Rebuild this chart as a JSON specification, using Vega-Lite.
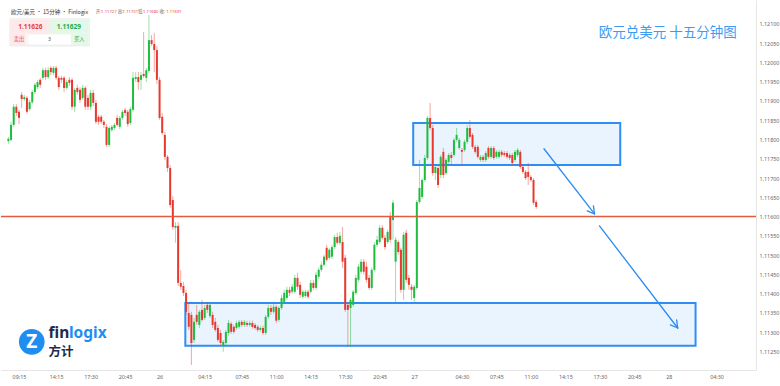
{
"$schema": "https://vega.github.io/schema/vega-lite/v6.json",
"width": 780, "height": 386,
"autosize": {"type": "fit", "contains": "padding"},
"padding": {"left": 0, "top": 0, "right": 1, "bottom": 6},
"background": "#ffffff",
"config": {"view": {"stroke": null}, "axis": {"grid": false, "ticks": false, "labelOverlap": false, "tickCount": 50, "labelFont": "Noto Sans", "labelFontSize": 5.4, "labelColor": "#666666", "domainColor": "#e6e6e6", "titleFontSize": 1, "titleColor": "#ffffff"}, "axisX": {"labelPadding": 4}, "axisY": {"labelPadding": 3}},
"datasets": {
"candles": [
{"time":"2019-06-25T09:45","open":1.11796,"high":1.11807,"low":1.11789,"close":1.11802},
{"time":"2019-06-25T10:00","open":1.11799,"high":1.11846,"low":1.11794,"close":1.11838},
{"time":"2019-06-25T10:15","open":1.11838,"high":1.11892,"low":1.11833,"close":1.11885},
{"time":"2019-06-25T10:30","open":1.11885,"high":1.11892,"low":1.11861,"close":1.11869},
{"time":"2019-06-25T10:45","open":1.11872,"high":1.11877,"low":1.11840,"close":1.11856},
{"time":"2019-06-25T11:00","open":1.11916,"high":1.11923,"low":1.11882,"close":1.11905},
{"time":"2019-06-25T11:15","open":1.11905,"high":1.11916,"low":1.11900,"close":1.11910},
{"time":"2019-06-25T11:30","open":1.11908,"high":1.11913,"low":1.11866,"close":1.11872},
{"time":"2019-06-25T11:45","open":1.11879,"high":1.11903,"low":1.11874,"close":1.11897},
{"time":"2019-06-25T12:00","open":1.11897,"high":1.11929,"low":1.11892,"close":1.11923},
{"time":"2019-06-25T12:15","open":1.11923,"high":1.11947,"low":1.11918,"close":1.11942},
{"time":"2019-06-25T12:30","open":1.11936,"high":1.11955,"low":1.11931,"close":1.11949},
{"time":"2019-06-25T12:45","open":1.11955,"high":1.11960,"low":1.11934,"close":1.11942},
{"time":"2019-06-25T13:00","open":1.11960,"high":1.11986,"low":1.11955,"close":1.11980},
{"time":"2019-06-25T13:15","open":1.11980,"high":1.11986,"low":1.11955,"close":1.11962},
{"time":"2019-06-25T13:30","open":1.11962,"high":1.11988,"low":1.11957,"close":1.11980},
{"time":"2019-06-25T13:45","open":1.11986,"high":1.11991,"low":1.11967,"close":1.11975},
{"time":"2019-06-25T14:00","open":1.11973,"high":1.11991,"low":1.11967,"close":1.11986},
{"time":"2019-06-25T14:15","open":1.11986,"high":1.11991,"low":1.11955,"close":1.11960},
{"time":"2019-06-25T14:30","open":1.11960,"high":1.11965,"low":1.11929,"close":1.11936},
{"time":"2019-06-25T14:45","open":1.11960,"high":1.11965,"low":1.11947,"close":1.11955},
{"time":"2019-06-25T15:00","open":1.11960,"high":1.11965,"low":1.11923,"close":1.11934},
{"time":"2019-06-25T15:15","open":1.11934,"high":1.11955,"low":1.11929,"close":1.11949},
{"time":"2019-06-25T15:30","open":1.11955,"high":1.11962,"low":1.11939,"close":1.11947},
{"time":"2019-06-25T15:45","open":1.11955,"high":1.11960,"low":1.11877,"close":1.11885},
{"time":"2019-06-25T16:00","open":1.11885,"high":1.11934,"low":1.11872,"close":1.11929},
{"time":"2019-06-25T16:15","open":1.11934,"high":1.11942,"low":1.11916,"close":1.11923},
{"time":"2019-06-25T16:30","open":1.11929,"high":1.11936,"low":1.11895,"close":1.11903},
{"time":"2019-06-25T16:45","open":1.11908,"high":1.11942,"low":1.11903,"close":1.11934},
{"time":"2019-06-25T17:00","open":1.11934,"high":1.11939,"low":1.11877,"close":1.11885},
{"time":"2019-06-25T17:15","open":1.11908,"high":1.11916,"low":1.11877,"close":1.11885},
{"time":"2019-06-25T17:30","open":1.11885,"high":1.11929,"low":1.11877,"close":1.11921},
{"time":"2019-06-25T17:45","open":1.11921,"high":1.11929,"low":1.11887,"close":1.11895},
{"time":"2019-06-25T18:00","open":1.11895,"high":1.11903,"low":1.11840,"close":1.11846},
{"time":"2019-06-25T18:15","open":1.11859,"high":1.11864,"low":1.11838,"close":1.11846},
{"time":"2019-06-25T18:30","open":1.11859,"high":1.11864,"low":1.11840,"close":1.11846},
{"time":"2019-06-25T18:45","open":1.11846,"high":1.11851,"low":1.11830,"close":1.11838},
{"time":"2019-06-25T19:00","open":1.11833,"high":1.11840,"low":1.11781,"close":1.11786},
{"time":"2019-06-25T19:15","open":1.11786,"high":1.11835,"low":1.11781,"close":1.11830},
{"time":"2019-06-25T19:30","open":1.11825,"high":1.11838,"low":1.11820,"close":1.11833},
{"time":"2019-06-25T19:45","open":1.11830,"high":1.11843,"low":1.11825,"close":1.11838},
{"time":"2019-06-25T20:00","open":1.11856,"high":1.11864,"low":1.11833,"close":1.11838},
{"time":"2019-06-25T20:15","open":1.11833,"high":1.11861,"low":1.11827,"close":1.11856},
{"time":"2019-06-25T20:30","open":1.11856,"high":1.11877,"low":1.11851,"close":1.11872},
{"time":"2019-06-25T20:45","open":1.11877,"high":1.11882,"low":1.11861,"close":1.11869},
{"time":"2019-06-25T21:00","open":1.11872,"high":1.11877,"low":1.11833,"close":1.11840},
{"time":"2019-06-25T21:15","open":1.11843,"high":1.11885,"low":1.11838,"close":1.11879},
{"time":"2019-06-25T21:30","open":1.11877,"high":1.11975,"low":1.11872,"close":1.11960},
{"time":"2019-06-25T21:45","open":1.11957,"high":1.11975,"low":1.11949,"close":1.11962},
{"time":"2019-06-25T22:00","open":1.11962,"high":1.11975,"low":1.11929,"close":1.11949},
{"time":"2019-06-25T22:15","open":1.11955,"high":1.11975,"low":1.11929,"close":1.11967},
{"time":"2019-06-25T22:30","open":1.11970,"high":1.12079,"low":1.11960,"close":1.11965},
{"time":"2019-06-25T22:45","open":1.11960,"high":1.11986,"low":1.11949,"close":1.11980},
{"time":"2019-06-25T23:00","open":1.11978,"high":1.12123,"low":1.11973,"close":1.12058},
{"time":"2019-06-25T23:15","open":1.12058,"high":1.12071,"low":1.12043,"close":1.12048},
{"time":"2019-06-25T23:30","open":1.12048,"high":1.12076,"low":1.11975,"close":1.12032},
{"time":"2019-06-25T23:45","open":1.12032,"high":1.12043,"low":1.11944,"close":1.11955},
{"time":"2019-06-26T00:00","open":1.11955,"high":1.11962,"low":1.11851,"close":1.11856},
{"time":"2019-06-26T00:15","open":1.11859,"high":1.11869,"low":1.11812,"close":1.11817},
{"time":"2019-06-26T00:30","open":1.11812,"high":1.11820,"low":1.11747,"close":1.11755},
{"time":"2019-06-26T00:45","open":1.11755,"high":1.11760,"low":1.11716,"close":1.11726},
{"time":"2019-06-26T01:00","open":1.11726,"high":1.11734,"low":1.11623,"close":1.11630},
{"time":"2019-06-26T01:15","open":1.11643,"high":1.11654,"low":1.11566,"close":1.11573},
{"time":"2019-06-26T01:30","open":1.11571,"high":1.11586,"low":1.11532,"close":1.11576},
{"time":"2019-06-26T01:45","open":1.11576,"high":1.11586,"low":1.11420,"close":1.11428},
{"time":"2019-06-26T02:00","open":1.11428,"high":1.11462,"low":1.11410,"close":1.11418},
{"time":"2019-06-26T02:15","open":1.11420,"high":1.11431,"low":1.11394,"close":1.11402},
{"time":"2019-06-26T02:30","open":1.11402,"high":1.11410,"low":1.11345,"close":1.11353},
{"time":"2019-06-26T02:45","open":1.11350,"high":1.11376,"low":1.11306,"close":1.11314},
{"time":"2019-06-26T03:00","open":1.11345,"high":1.11353,"low":1.11215,"close":1.11272},
{"time":"2019-06-26T03:15","open":1.11280,"high":1.11337,"low":1.11272,"close":1.11327},
{"time":"2019-06-26T03:30","open":1.11345,"high":1.11371,"low":1.11319,"close":1.11327},
{"time":"2019-06-26T03:45","open":1.11319,"high":1.11358,"low":1.11311,"close":1.11353},
{"time":"2019-06-26T04:00","open":1.11358,"high":1.11384,"low":1.11327,"close":1.11332},
{"time":"2019-06-26T04:15","open":1.11337,"high":1.11371,"low":1.11332,"close":1.11363},
{"time":"2019-06-26T04:30","open":1.11371,"high":1.11379,"low":1.11350,"close":1.11358},
{"time":"2019-06-26T04:45","open":1.11342,"high":1.11379,"low":1.11337,"close":1.11371},
{"time":"2019-06-26T05:00","open":1.11345,"high":1.11353,"low":1.11311,"close":1.11319},
{"time":"2019-06-26T05:15","open":1.11327,"high":1.11337,"low":1.11301,"close":1.11306},
{"time":"2019-06-26T05:30","open":1.11311,"high":1.11319,"low":1.11275,"close":1.11280},
{"time":"2019-06-26T05:45","open":1.11298,"high":1.11306,"low":1.11267,"close":1.11272},
{"time":"2019-06-26T06:00","open":1.11267,"high":1.11280,"low":1.11249,"close":1.11275},
{"time":"2019-06-26T06:15","open":1.11272,"high":1.11306,"low":1.11267,"close":1.11301},
{"time":"2019-06-26T06:30","open":1.11298,"high":1.11332,"low":1.11291,"close":1.11324},
{"time":"2019-06-26T06:45","open":1.11322,"high":1.11327,"low":1.11296,"close":1.11301},
{"time":"2019-06-26T07:00","open":1.11314,"high":1.11319,"low":1.11296,"close":1.11301},
{"time":"2019-06-26T07:15","open":1.11311,"high":1.11330,"low":1.11306,"close":1.11324},
{"time":"2019-06-26T07:30","open":1.11314,"high":1.11332,"low":1.11309,"close":1.11327},
{"time":"2019-06-26T07:45","open":1.11327,"high":1.11332,"low":1.11314,"close":1.11319},
{"time":"2019-06-26T08:00","open":1.11319,"high":1.11332,"low":1.11314,"close":1.11327},
{"time":"2019-06-26T08:15","open":1.11324,"high":1.11330,"low":1.11314,"close":1.11319},
{"time":"2019-06-26T08:30","open":1.11319,"high":1.11330,"low":1.11314,"close":1.11324},
{"time":"2019-06-26T08:45","open":1.11324,"high":1.11330,"low":1.11309,"close":1.11314},
{"time":"2019-06-26T09:00","open":1.11319,"high":1.11324,"low":1.11306,"close":1.11311},
{"time":"2019-06-26T09:15","open":1.11314,"high":1.11319,"low":1.11301,"close":1.11306},
{"time":"2019-06-26T09:30","open":1.11306,"high":1.11317,"low":1.11301,"close":1.11311},
{"time":"2019-06-26T09:45","open":1.11311,"high":1.11317,"low":1.11293,"close":1.11298},
{"time":"2019-06-26T10:00","open":1.11298,"high":1.11345,"low":1.11293,"close":1.11340},
{"time":"2019-06-26T10:15","open":1.11340,"high":1.11371,"low":1.11335,"close":1.11363},
{"time":"2019-06-26T10:30","open":1.11363,"high":1.11371,"low":1.11345,"close":1.11353},
{"time":"2019-06-26T10:45","open":1.11353,"high":1.11374,"low":1.11348,"close":1.11366},
{"time":"2019-06-26T11:00","open":1.11366,"high":1.11371,"low":1.11324,"close":1.11330},
{"time":"2019-06-26T11:15","open":1.11332,"high":1.11368,"low":1.11327,"close":1.11363},
{"time":"2019-06-26T11:30","open":1.11363,"high":1.11397,"low":1.11358,"close":1.11389},
{"time":"2019-06-26T11:45","open":1.11379,"high":1.11410,"low":1.11374,"close":1.11402},
{"time":"2019-06-26T12:00","open":1.11389,"high":1.11418,"low":1.11384,"close":1.11410},
{"time":"2019-06-26T12:15","open":1.11410,"high":1.11418,"low":1.11394,"close":1.11402},
{"time":"2019-06-26T12:30","open":1.11405,"high":1.11425,"low":1.11400,"close":1.11418},
{"time":"2019-06-26T12:45","open":1.11405,"high":1.11449,"low":1.11400,"close":1.11441},
{"time":"2019-06-26T13:00","open":1.11441,"high":1.11454,"low":1.11410,"close":1.11418},
{"time":"2019-06-26T13:15","open":1.11423,"high":1.11431,"low":1.11389,"close":1.11397},
{"time":"2019-06-26T13:30","open":1.11392,"high":1.11410,"low":1.11387,"close":1.11405},
{"time":"2019-06-26T13:45","open":1.11394,"high":1.11410,"low":1.11389,"close":1.11405},
{"time":"2019-06-26T14:00","open":1.11405,"high":1.11410,"low":1.11387,"close":1.11392},
{"time":"2019-06-26T14:15","open":1.11405,"high":1.11436,"low":1.11400,"close":1.11428},
{"time":"2019-06-26T14:30","open":1.11428,"high":1.11436,"low":1.11410,"close":1.11415},
{"time":"2019-06-26T14:45","open":1.11415,"high":1.11457,"low":1.11410,"close":1.11449},
{"time":"2019-06-26T15:00","open":1.11444,"high":1.11467,"low":1.11438,"close":1.11462},
{"time":"2019-06-26T15:15","open":1.11462,"high":1.11483,"low":1.11457,"close":1.11475},
{"time":"2019-06-26T15:30","open":1.11475,"high":1.11501,"low":1.11470,"close":1.11496},
{"time":"2019-06-26T15:45","open":1.11519,"high":1.11527,"low":1.11483,"close":1.11488},
{"time":"2019-06-26T16:00","open":1.11493,"high":1.11519,"low":1.11488,"close":1.11514},
{"time":"2019-06-26T16:15","open":1.11496,"high":1.11527,"low":1.11490,"close":1.11521},
{"time":"2019-06-26T16:30","open":1.11521,"high":1.11553,"low":1.11516,"close":1.11547},
{"time":"2019-06-26T16:45","open":1.11547,"high":1.11558,"low":1.11527,"close":1.11532},
{"time":"2019-06-26T17:00","open":1.11532,"high":1.11560,"low":1.11527,"close":1.11550},
{"time":"2019-06-26T17:15","open":1.11534,"high":1.11573,"low":1.11467,"close":1.11483},
{"time":"2019-06-26T17:30","open":1.11493,"high":1.11501,"low":1.11353,"close":1.11358},
{"time":"2019-06-26T17:45","open":1.11371,"high":1.11379,"low":1.11262,"close":1.11358},
{"time":"2019-06-26T18:00","open":1.11363,"high":1.11389,"low":1.11262,"close":1.11384},
{"time":"2019-06-26T18:15","open":1.11371,"high":1.11410,"low":1.11366,"close":1.11405},
{"time":"2019-06-26T18:30","open":1.11402,"high":1.11449,"low":1.11397,"close":1.11441},
{"time":"2019-06-26T18:45","open":1.11436,"high":1.11477,"low":1.11431,"close":1.11470},
{"time":"2019-06-26T19:00","open":1.11457,"high":1.11490,"low":1.11451,"close":1.11483},
{"time":"2019-06-26T19:15","open":1.11483,"high":1.11490,"low":1.11449,"close":1.11457},
{"time":"2019-06-26T19:30","open":1.11470,"high":1.11483,"low":1.11428,"close":1.11436},
{"time":"2019-06-26T19:45","open":1.11441,"high":1.11449,"low":1.11410,"close":1.11415},
{"time":"2019-06-26T20:00","open":1.11415,"high":1.11467,"low":1.11410,"close":1.11462},
{"time":"2019-06-26T20:15","open":1.11462,"high":1.11534,"low":1.11457,"close":1.11527},
{"time":"2019-06-26T20:30","open":1.11527,"high":1.11550,"low":1.11521,"close":1.11540},
{"time":"2019-06-26T20:45","open":1.11534,"high":1.11578,"low":1.11529,"close":1.11571},
{"time":"2019-06-26T21:00","open":1.11571,"high":1.11578,"low":1.11540,"close":1.11545},
{"time":"2019-06-26T21:15","open":1.11545,"high":1.11553,"low":1.11514,"close":1.11521},
{"time":"2019-06-26T21:30","open":1.11534,"high":1.11566,"low":1.11529,"close":1.11560},
{"time":"2019-06-26T21:45","open":1.11599,"high":1.11612,"low":1.11532,"close":1.11540},
{"time":"2019-06-26T22:00","open":1.11591,"high":1.11643,"low":1.11540,"close":1.11636},
{"time":"2019-06-26T22:15","open":1.11483,"high":1.11547,"low":1.11376,"close":1.11540},
{"time":"2019-06-26T22:30","open":1.11534,"high":1.11540,"low":1.11501,"close":1.11508},
{"time":"2019-06-26T22:45","open":1.11514,"high":1.11519,"low":1.11402,"close":1.11410},
{"time":"2019-06-26T23:00","open":1.11410,"high":1.11560,"low":1.11384,"close":1.11553},
{"time":"2019-06-26T23:15","open":1.11558,"high":1.11566,"low":1.11428,"close":1.11436},
{"time":"2019-06-26T23:30","open":1.11441,"high":1.11449,"low":1.11410,"close":1.11423},
{"time":"2019-06-26T23:45","open":1.11418,"high":1.11425,"low":1.11384,"close":1.11410},
{"time":"2019-06-27T00:00","open":1.11389,"high":1.11423,"low":1.11379,"close":1.11418},
{"time":"2019-06-27T00:15","open":1.11415,"high":1.11643,"low":1.11410,"close":1.11638},
{"time":"2019-06-27T00:30","open":1.11638,"high":1.11747,"low":1.11633,"close":1.11674},
{"time":"2019-06-27T00:45","open":1.11651,"high":1.11700,"low":1.11646,"close":1.11695},
{"time":"2019-06-27T01:00","open":1.11695,"high":1.11760,"low":1.11690,"close":1.11752},
{"time":"2019-06-27T01:15","open":1.11752,"high":1.11861,"low":1.11747,"close":1.11856},
{"time":"2019-06-27T01:30","open":1.11856,"high":1.11895,"low":1.11825,"close":1.11830},
{"time":"2019-06-27T01:45","open":1.11830,"high":1.11838,"low":1.11706,"close":1.11713},
{"time":"2019-06-27T02:00","open":1.11713,"high":1.11734,"low":1.11695,"close":1.11729},
{"time":"2019-06-27T02:15","open":1.11726,"high":1.11734,"low":1.11674,"close":1.11682},
{"time":"2019-06-27T02:30","open":1.11708,"high":1.11760,"low":1.11700,"close":1.11755},
{"time":"2019-06-27T02:45","open":1.11768,"high":1.11778,"low":1.11700,"close":1.11708},
{"time":"2019-06-27T03:00","open":1.11713,"high":1.11752,"low":1.11708,"close":1.11747},
{"time":"2019-06-27T03:15","open":1.11742,"high":1.11765,"low":1.11737,"close":1.11760},
{"time":"2019-06-27T03:30","open":1.11760,"high":1.11768,"low":1.11734,"close":1.11752},
{"time":"2019-06-27T03:45","open":1.11760,"high":1.11804,"low":1.11755,"close":1.11799},
{"time":"2019-06-27T04:00","open":1.11799,"high":1.11830,"low":1.11794,"close":1.11812},
{"time":"2019-06-27T04:15","open":1.11778,"high":1.11804,"low":1.11773,"close":1.11799},
{"time":"2019-06-27T04:30","open":1.11773,"high":1.11778,"low":1.11734,"close":1.11768},
{"time":"2019-06-27T04:45","open":1.11773,"high":1.11799,"low":1.11768,"close":1.11794},
{"time":"2019-06-27T05:00","open":1.11794,"high":1.11838,"low":1.11789,"close":1.11830},
{"time":"2019-06-27T05:15","open":1.11830,"high":1.11851,"low":1.11802,"close":1.11807},
{"time":"2019-06-27T05:30","open":1.11812,"high":1.11817,"low":1.11776,"close":1.11781},
{"time":"2019-06-27T05:45","open":1.11781,"high":1.11786,"low":1.11763,"close":1.11768},
{"time":"2019-06-27T06:00","open":1.11781,"high":1.11786,"low":1.11750,"close":1.11755},
{"time":"2019-06-27T06:15","open":1.11747,"high":1.11760,"low":1.11742,"close":1.11755},
{"time":"2019-06-27T06:30","open":1.11755,"high":1.11760,"low":1.11742,"close":1.11747},
{"time":"2019-06-27T06:45","open":1.11747,"high":1.11770,"low":1.11742,"close":1.11765},
{"time":"2019-06-27T07:00","open":1.11778,"high":1.11783,"low":1.11750,"close":1.11755},
{"time":"2019-06-27T07:15","open":1.11755,"high":1.11783,"low":1.11750,"close":1.11778},
{"time":"2019-06-27T07:30","open":1.11778,"high":1.11783,"low":1.11747,"close":1.11752},
{"time":"2019-06-27T07:45","open":1.11755,"high":1.11773,"low":1.11750,"close":1.11768},
{"time":"2019-06-27T08:00","open":1.11755,"high":1.11773,"low":1.11750,"close":1.11768},
{"time":"2019-06-27T08:15","open":1.11768,"high":1.11773,"low":1.11755,"close":1.11760},
{"time":"2019-06-27T08:30","open":1.11765,"high":1.11770,"low":1.11755,"close":1.11760},
{"time":"2019-06-27T08:45","open":1.11765,"high":1.11770,"low":1.11750,"close":1.11755},
{"time":"2019-06-27T09:00","open":1.11760,"high":1.11765,"low":1.11747,"close":1.11752},
{"time":"2019-06-27T09:15","open":1.11760,"high":1.11765,"low":1.11734,"close":1.11739},
{"time":"2019-06-27T09:30","open":1.11747,"high":1.11773,"low":1.11742,"close":1.11768},
{"time":"2019-06-27T09:45","open":1.11760,"high":1.11778,"low":1.11755,"close":1.11773},
{"time":"2019-06-27T10:00","open":1.11768,"high":1.11773,"low":1.11724,"close":1.11729},
{"time":"2019-06-27T10:15","open":1.11729,"high":1.11734,"low":1.11711,"close":1.11716},
{"time":"2019-06-27T10:30","open":1.11716,"high":1.11721,"low":1.11695,"close":1.11700},
{"time":"2019-06-27T10:45","open":1.11716,"high":1.11739,"low":1.11682,"close":1.11703},
{"time":"2019-06-27T11:00","open":1.11703,"high":1.11708,"low":1.11690,"close":1.11695},
{"time":"2019-06-27T11:15","open":1.11695,"high":1.11700,"low":1.11630,"close":1.11636},
{"time":"2019-06-27T11:30","open":1.11638,"high":1.11643,"low":1.11620,"close":1.11625}
],
"zones": [
{"start":"2019-06-26T23:54:30","end":"2019-06-27T19:25:30","top":1.11843,"bottom":1.11734},
{"start":"2019-06-26T02:25:42","end":"2019-06-28T02:31:24","top":1.11376,"bottom":1.11265}
],
"arrows": [
{"t1":"2019-06-27T12:14:06","p1":1.11776,"t2":"2019-06-27T17:00:00","p2":1.11607},
{"t1":"2019-06-27T17:00:00","p1":1.11607,"t2":"2019-06-27T16:53:42","p2":1.11628},
{"t1":"2019-06-27T17:00:00","p1":1.11607,"t2":"2019-06-27T16:18:18","p2":1.11615},
{"t1":"2019-06-27T17:28:00","p1":1.11576,"t2":"2019-06-28T00:50:30","p2":1.11311},
{"t1":"2019-06-28T00:50:30","p1":1.11311,"t2":"2019-06-28T00:44:18","p2":1.11332},
{"t1":"2019-06-28T00:50:30","p1":1.11311,"t2":"2019-06-28T00:09:00","p2":1.11319}
],
"widget": [
{"part":"frame","start":"2019-06-25T09:53:55","end":"2019-06-25T17:22:12","top":1.12113,"bottom":1.12043},
{"part":"sell","start":"2019-06-25T09:59:30","end":"2019-06-25T13:38:02","top":1.12110,"bottom":1.12076},
{"part":"buy","start":"2019-06-25T13:38:02","end":"2019-06-25T17:16:34","top":1.12110,"bottom":1.12076},
{"part":"sellTag","start":"2019-06-25T09:59:30","end":"2019-06-25T11:23:35","top":1.12074,"bottom":1.12045},
{"part":"qty","start":"2019-06-25T11:34:48","end":"2019-06-25T15:41:20","top":1.12074,"bottom":1.12045},
{"part":"buyTag","start":"2019-06-25T15:46:55","end":"2019-06-25T17:16:34","top":1.12074,"bottom":1.12045}
]
},
"layer": [
{"data":{"name":"zones"},
 "mark":{"type":"rect","fill":"#eaf4fe","stroke":"#2f8ef5","strokeWidth":2},
 "encoding":{
  "x":{"field":"start","type":"temporal",
   "scale":{"domain":[{"year":2019,"month":6,"date":25,"hours":9,"minutes":31,"seconds":30},{"year":2019,"month":6,"date":28,"hours":7,"minutes":45}]},
   "axis":{"title":null,"orient":"bottom","labelPadding":4,"labelOverlap":false,"tickCount":50,
    "values":[{"year":2019,"month":6,"date":25,"hours":10,"minutes":45},{"year":2019,"month":6,"date":25,"hours":14,"minutes":15},{"year":2019,"month":6,"date":25,"hours":17,"minutes":30},{"year":2019,"month":6,"date":25,"hours":20,"minutes":45},{"year":2019,"month":6,"date":26,"hours":0,"minutes":0},{"year":2019,"month":6,"date":26,"hours":4,"minutes":15},{"year":2019,"month":6,"date":26,"hours":7,"minutes":45},{"year":2019,"month":6,"date":26,"hours":11,"minutes":0},{"year":2019,"month":6,"date":26,"hours":14,"minutes":15},{"year":2019,"month":6,"date":26,"hours":17,"minutes":30},{"year":2019,"month":6,"date":26,"hours":20,"minutes":45},{"year":2019,"month":6,"date":27,"hours":0,"minutes":0},{"year":2019,"month":6,"date":27,"hours":4,"minutes":30},{"year":2019,"month":6,"date":27,"hours":7,"minutes":45},{"year":2019,"month":6,"date":27,"hours":11,"minutes":0},{"year":2019,"month":6,"date":27,"hours":14,"minutes":15},{"year":2019,"month":6,"date":27,"hours":17,"minutes":30},{"year":2019,"month":6,"date":27,"hours":20,"minutes":45},{"year":2019,"month":6,"date":28,"hours":0,"minutes":0},{"year":2019,"month":6,"date":28,"hours":4,"minutes":30}],
    "labelExpr":"(hours(datum.value) == 0 && minutes(datum.value) == 0) ? timeFormat(datum.value, '%d') : ((date(datum.value) == 25 && hours(datum.value) == 10) ? '09:15' : timeFormat(datum.value, '%H:%M'))"}},
  "x2":{"field":"end"},
  "y":{"field":"top","type":"quantitative",
   "scale":{"domain":[1.11202,1.12162],"nice":false,"zero":false},
   "axis":{"title":null,"orient":"right","format":".5f","labelPadding":3,"labelOverlap":false,"tickCount":50,
    "values":[1.1125,1.113,1.1135,1.114,1.1145,1.115,1.1155,1.116,1.1165,1.117,1.1175,1.118,1.1185,1.119,1.1195,1.12,1.1205,1.121]}},
  "y2":{"field":"bottom"}}},
{"data":{"name":"candles"},
 "mark":{"type":"rule","strokeWidth":1,"opacity":0.45},
 "encoding":{
  "x":{"field":"time","type":"temporal"},
  "y":{"field":"low","type":"quantitative"},
  "y2":{"field":"high"},
  "color":{"condition":{"test":"datum.close >= datum.open","value":"#1fbd3e"},"value":"#e8392f"}}},
{"data":{"name":"candles"},
 "mark":{"type":"bar","size":2},
 "encoding":{
  "x":{"field":"time","type":"temporal"},
  "y":{"field":"open","type":"quantitative","scale":{"domain":[1.11202,1.12162],"nice":false,"zero":false}},
  "y2":{"field":"close"},
  "color":{"condition":{"test":"datum.close >= datum.open","value":"#1fbd3e"},"value":"#e8392f"}}},
{"data":{"values":[{"price":1.116}]},
 "mark":{"type":"rule","color":"#e25b3c","strokeWidth":1.5},
 "encoding":{"y":{"field":"price","type":"quantitative"}}},
{"data":{"name":"arrows"},
 "mark":{"type":"rule","color":"#2a8cf0","strokeWidth":1.3,"strokeCap":"round"},
 "encoding":{
  "x":{"field":"t1","type":"temporal"},"x2":{"field":"t2"},
  "y":{"field":"p1","type":"quantitative"},"y2":{"field":"p2"}}},
{"data":{"name":"widget"},
 "mark":{"type":"rect","strokeWidth":0.8},
 "encoding":{
  "x":{"field":"start","type":"temporal"},"x2":{"field":"end"},
  "y":{"field":"top","type":"quantitative"},"y2":{"field":"bottom"},
  "fill":{"field":"part","type":"nominal","legend":null,"scale":{"domain":["frame","sell","buy","sellTag","qty","buyTag"],"range":["#ffffff","#fde9e9","#e3f8e8","#fde9e9","#ffffff","#e3f8e8"]}},
  "stroke":{"field":"part","type":"nominal","legend":null,"scale":{"domain":["frame","sell","buy","sellTag","qty","buyTag"],"range":["#e2e2e2","#fde9e9","#e3f8e8","#fde9e9","#ececec","#e3f8e8"]}}}},
{"data":{"values":[{"time":"2019-06-25T09:59:30","price":1.12131,"label":"欧元/美元 • 15分钟 • Finlogix"}]},
 "mark":{"type":"text","align":"left","baseline":"middle","fontSize":5.5,"color":"#333333","font":"Noto Sans CJK SC"},
 "encoding":{"x":{"field":"time","type":"temporal"},"y":{"field":"price","type":"quantitative"},"text":{"field":"label"}}},
{"data":{"values":[{"time":"2019-06-25T17:59:42","price":1.12131,"label":"开:"},{"time":"2019-06-25T20:03:00","price":1.12131,"label":"高:"},{"time":"2019-06-25T21:58:26","price":1.12131,"label":"低:"},{"time":"2019-06-26T00:00:00","price":1.12131,"label":"收:"}]},
 "mark":{"type":"text","align":"left","baseline":"middle","fontSize":4.5,"color":"#666666","font":"Noto Sans CJK SC"},
 "encoding":{"x":{"field":"time","type":"temporal"},"y":{"field":"price","type":"quantitative"},"text":{"field":"label"}}},
{"data":{"values":[{"time":"2019-06-25T18:29:24","price":1.12131,"label":"1.11727"},{"time":"2019-06-25T20:31:00","price":1.12131,"label":"1.11731"},{"time":"2019-06-25T22:26:24","price":1.12131,"label":"1.11680"},{"time":"2019-06-26T00:37:33","price":1.12131,"label":"1.11691"}]},
 "mark":{"type":"text","align":"left","baseline":"middle","fontSize":4.2,"color":"#e5484d","font":"Noto Sans"},
 "encoding":{"x":{"field":"time","type":"temporal"},"y":{"field":"price","type":"quantitative"},"text":{"field":"label"}}},
{"data":{"values":[{"time":"2019-06-25T11:48:47","price":1.12092,"label":"1.11626"}]},
 "mark":{"type":"text","align":"center","baseline":"middle","fontSize":6.5,"fontWeight":"bold","color":"#e8403a","font":"Noto Sans"},
 "encoding":{"x":{"field":"time","type":"temporal"},"y":{"field":"price","type":"quantitative"},"text":{"field":"label"}}},
{"data":{"values":[{"time":"2019-06-25T15:27:18","price":1.12092,"label":"1.11629"}]},
 "mark":{"type":"text","align":"center","baseline":"middle","fontSize":6.5,"fontWeight":"bold","color":"#1faa45","font":"Noto Sans"},
 "encoding":{"x":{"field":"time","type":"temporal"},"y":{"field":"price","type":"quantitative"},"text":{"field":"label"}}},
{"data":{"values":[{"time":"2019-06-25T10:44:20","price":1.1206,"label":"卖出"}]},
 "mark":{"type":"text","align":"center","baseline":"middle","fontSize":5.2,"color":"#e8403a","font":"Noto Sans CJK SC"},
 "encoding":{"x":{"field":"time","type":"temporal"},"y":{"field":"price","type":"quantitative"},"text":{"field":"label"}}},
{"data":{"values":[{"time":"2019-06-25T13:38:02","price":1.1206,"label":"3"}]},
 "mark":{"type":"text","align":"center","baseline":"middle","fontSize":5.2,"color":"#555555","font":"Noto Sans"},
 "encoding":{"x":{"field":"time","type":"temporal"},"y":{"field":"price","type":"quantitative"},"text":{"field":"label"}}},
{"data":{"values":[{"time":"2019-06-25T16:26:10","price":1.1206,"label":"买入"}]},
 "mark":{"type":"text","align":"center","baseline":"middle","fontSize":5.2,"color":"#1faa45","font":"Noto Sans CJK SC"},
 "encoding":{"x":{"field":"time","type":"temporal"},"y":{"field":"price","type":"quantitative"},"text":{"field":"label"}}},
{"data":{"values":[{"time":"2019-06-27T23:54:30","price":1.12076,"label":"欧元兑美元 十五分钟图"}]},
 "mark":{"type":"text","align":"center","baseline":"middle","fontSize":13.5,"color":"#3d9cf2","font":"Noto Sans CJK SC"},
 "encoding":{"x":{"field":"time","type":"temporal"},"y":{"field":"price","type":"quantitative"},"text":{"field":"label"}}},
{"data":{"values":[{"time":"2019-06-25T11:57:11","price":1.11275}]},
 "mark":{"type":"point","filled":true,"shape":"circle","size":660,"color":"#1f8ef1","opacity":1},
 "encoding":{"x":{"field":"time","type":"temporal"},"y":{"field":"price","type":"quantitative"}}},
{"data":{"values":[{"time":"2019-06-25T11:57:11","price":1.11275,"label":"Z"}]},
 "mark":{"type":"text","align":"center","baseline":"middle","fontSize":19,"fontWeight":"bold","color":"#ffffff","font":"Noto Sans"},
 "encoding":{"x":{"field":"time","type":"temporal"},"y":{"field":"price","type":"quantitative"},"text":{"field":"label"}}},
{"data":{"values":[{"time":"2019-06-25T13:32:28","price":1.11299,"label":"fin"}]},
 "mark":{"type":"text","align":"left","baseline":"middle","fontSize":15.5,"fontWeight":"bold","color":"#1c2b4e","font":"Noto Sans"},
 "encoding":{"x":{"field":"time","type":"temporal"},"y":{"field":"price","type":"quantitative"},"text":{"field":"label"}}},
{"data":{"values":[{"time":"2019-06-25T15:27:18","price":1.11299,"label":"logix"}]},
 "mark":{"type":"text","align":"left","baseline":"middle","fontSize":15.5,"fontWeight":"bold","color":"#1f8ef1","font":"Noto Sans"},
 "encoding":{"x":{"field":"time","type":"temporal"},"y":{"field":"price","type":"quantitative"},"text":{"field":"label"}}},
{"data":{"values":[{"time":"2019-06-25T13:32:28","price":1.11248,"label":"方计"}]},
 "mark":{"type":"text","align":"left","baseline":"middle","fontSize":12.5,"fontWeight":"bold","color":"#1c2b4e","font":"Noto Sans CJK SC"},
 "encoding":{"x":{"field":"time","type":"temporal"},"y":{"field":"price","type":"quantitative"},"text":{"field":"label"}}}
]
}
